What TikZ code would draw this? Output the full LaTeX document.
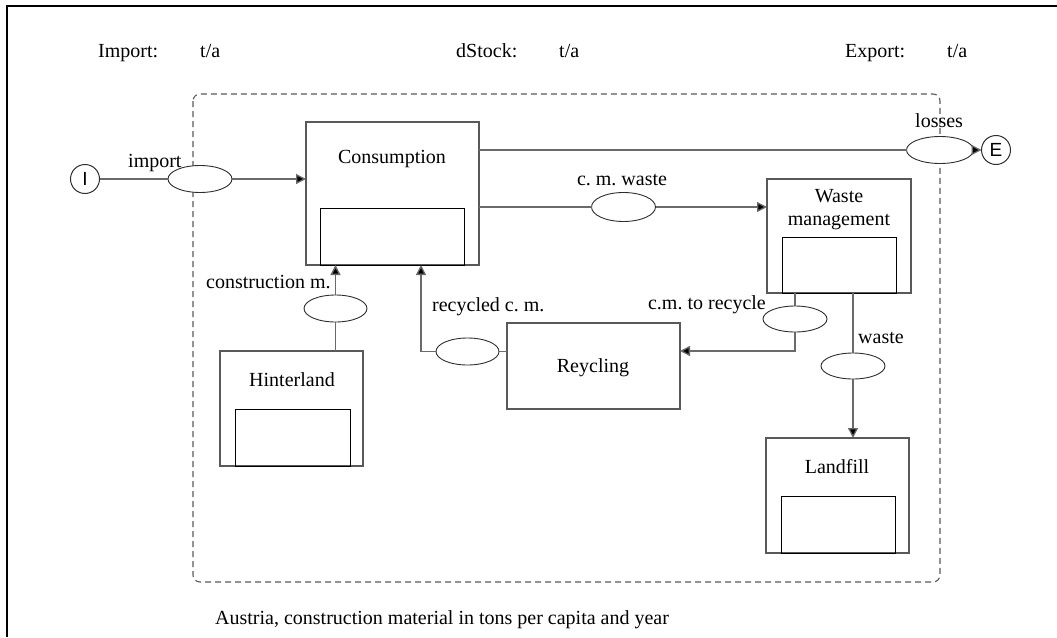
\documentclass[tikz,border=0pt]{standalone}
\usepackage{fontspec}
\setmainfont{Liberation Serif}
\newfontfamily\sansfont{Liberation Sans}
\usetikzlibrary{arrows.meta,shapes.geometric,calc}

\definecolor{linegray}{HTML}{6A6A6A}
\definecolor{boxgray}{HTML}{595959}
\definecolor{ovalgray}{HTML}{2E2E2E}

\tikzset{
  txt/.style={inner sep=0pt, font=\fontsize{20}{24}\selectfont\frenchspacing},
  procbox/.style={draw=boxgray, line width=1.3pt, rectangle, inner sep=0pt, outer sep=0pt},
  stockbox/.style={draw=black, line width=1pt, rectangle, inner sep=0pt, outer sep=0pt},
  flow/.style={draw=ovalgray, line width=0.9pt, ellipse, fill=white, minimum width=64pt, minimum height=27pt, inner sep=0pt, outer sep=0pt},
  endpoint/.style={draw=ovalgray, line width=1pt, circle, fill=white, minimum size=29pt, inner sep=0pt, outer sep=0pt, font=\sansfont\fontsize{19}{22}\selectfont},
  flowline/.style={draw=linegray, line width=1.3pt},
  arrowline/.style={flowline, -{Triangle[length=10pt, width=10pt, fill=black]}},
  systemline/.style={draw=boxgray, line width=1.1pt, dash pattern=on 6pt off 4pt, rounded corners=7pt}
}

\begin{document}
\begin{tikzpicture}[x=1pt, y=-1pt]
\useasboundingbox (0,0) rectangle (1057,637);

% outer frame
\draw[line width=1.3pt] (7,637) -- (7,6) -- (1057,6);

% header values
\node[txt, anchor=base west] (impT) at (98,57) {Import:};
\node[txt, anchor=base west] (impU) at (200,57) {t/a};
\node[txt, anchor=base west] (stkT) at (456,57) {dStock:};
\node[txt, anchor=base west] (stkU) at (559,57) {t/a};
\node[txt, anchor=base west] (expT) at (845,57) {Export:};
\node[txt, anchor=base west] (expU) at (947,57) {t/a};

% system boundary
\draw[systemline] (193,94) rectangle (940,582);

% processes
\node[procbox, minimum width=173pt, minimum height=143pt] (cons) at (392.5,193.5) {};
\node[stockbox, minimum width=144pt, minimum height=57pt] (consS) at (392,236.5) {};
\node[txt, anchor=base] (consT) at (392,163) {Consumption};

\node[procbox, minimum width=144pt, minimum height=114pt] (wm) at (839,236) {};
\node[stockbox, minimum width=114pt, minimum height=56pt] (wmS) at (839,265) {};
\node[txt, anchor=base] (wmT1) at (839,202) {Waste};
\node[txt, anchor=base] (wmT2) at (839,225) {management};

\node[procbox, minimum width=143pt, minimum height=115pt] (hint) at (291.5,408.5) {};
\node[stockbox, minimum width=115pt, minimum height=57pt] (hintS) at (292.5,437.5) {};
\node[txt, anchor=base] (hintT) at (292,386) {Hinterland};

\node[procbox, minimum width=173pt, minimum height=86pt] (rec) at (593.5,366) {};
\node[txt, anchor=base] (recT) at (593,372) {Reycling};

\node[procbox, minimum width=143pt, minimum height=115pt] (land) at (837.5,495.5) {};
\node[stockbox, minimum width=114pt, minimum height=57pt] (landS) at (838,524.5) {};
\node[txt, anchor=base] (landT) at (837,473) {Landfill};

% import / export
\node[endpoint] (I) at (85,179) {I};
\node[endpoint] (E) at (996,150) {E};

% flows
\node[flow] (eimp) at (200,179) {};
\node[flow, minimum width=67pt] (eloss) at (940,150) {};
\node[flow, minimum height=29pt] (ecmw) at (623.5,207) {};
\node[flow, minimum height=26pt] (ecr) at (795,319) {};
\node[flow, minimum height=26pt] (ewaste) at (853,366) {};
\node[flow, minimum width=63pt] (erc) at (467.5,351.5) {};
\node[flow, minimum width=63pt] (ecm) at (335.5,308.5) {};

% flow labels
\node[txt, anchor=base west] (limp) at (128,167) {import};
\node[txt, anchor=base west] (lloss) at (915,127) {losses};
\node[txt, anchor=base] (lcmw) at (622,185) {c. m. waste};
\node[txt, anchor=base east] (lcr) at (766,309) {c.m. to recycle};
\node[txt, anchor=base west] (lwaste) at (858,343) {waste};
\node[txt, anchor=base west] (lrc) at (432,311) {recycled c. m.};
\node[txt, anchor=base west] (lcm) at (206,288) {construction m.};

% connectors
\draw[flowline] (I) -- (eimp);
\draw[arrowline] (eimp) -- (eimp -| cons.west);

\draw[flowline] (cons.east |- eloss) -- (eloss);
\draw[arrowline] (eloss) -- (E);

\draw[flowline] (cons.east |- ecmw) -- (ecmw);
\draw[arrowline] (ecmw) -- (ecmw -| wm.west);

\draw[flowline] (wm.south -| ecr) -- (ecr);
\draw[arrowline] (ecr) |- ($(rec.north east)+(0,28)$);

\draw[flowline] (rec.west |- erc) -- (erc);
\draw[arrowline] (erc) -| ($(cons.south west)+(115,0)$);

\draw[flowline] (hint.north -| ecm) -- (ecm);
\draw[arrowline] (ecm) -- (ecm |- cons.south);

\draw[flowline] (wm.south -| ewaste) -- (ewaste);
\draw[arrowline] (ewaste) -- (ewaste |- land.north);

% caption
\node[txt, anchor=base west] (cap) at (215,624) {Austria, construction material in tons per capita and year};
\end{tikzpicture}
\end{document}
